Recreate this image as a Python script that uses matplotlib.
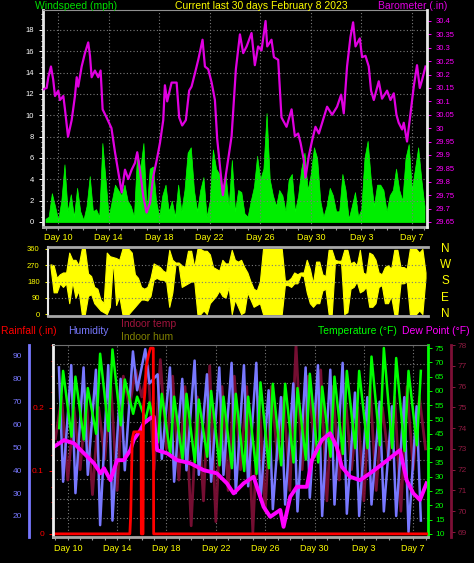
import numpy as np
import matplotlib
matplotlib.use('Agg')
import matplotlib.pyplot as plt
from matplotlib.ticker import MultipleLocator, FuncFormatter

plt.rcParams['font.family'] = ['Liberation Sans', 'DejaVu Sans']

# x axis: day number counted from Jan 0 (Feb 3 = 34, Feb 7 = 38)
day_ticks = [10, 14, 18, 22, 26, 30, 34, 38]
day_labels = ['Day 10', 'Day 14', 'Day 18', 'Day 22', 'Day 26', 'Day 30', 'Day 3', 'Day 7']

# windspeed (mph), one reading every 6 hours from day 9.0
wind_start, wind_step = 9.0, 0.25
wind_speed = [0.3, 0.5, 2.7, 1.5, 0.2, 2.0, 5.4, 1.0, 2.6, 0.5,
              3.2, 1.0, 0.2, 1.5, 4.3, 1.0, 1.2, 0.5, 7.4, 4.0,
              0.5, 2.0, 3.5, 3.0, 2.5, 3.5, 2.0, 1.5, 0.5, 6.5,
              5.0, 7.4, 1.0, 5.0, 5.2, 2.0, 0.5, 2.5, 3.5, 1.0,
              2.0, 0.5, 3.5, 1.0, 3.0, 6.5, 7.0, 3.0, 1.0, 3.0,
              4.2, 0.5, 2.0, 6.8, 5.0, 4.5, 3.0, 4.5, 1.5, 5.8,
              1.0, 3.0,
              2.8, 0.8, 0.5, 2.0, 3.3, 6.2, 4.0, 5.0, 10.2, 4.0,
              2.5, 1.5, 3.0, 2.5, 1.0, 4.0, 4.5, 1.0, 2.5, 5.0,
              6.5, 3.0, 4.5, 7.0, 6.0, 2.0, 0.5, 1.5, 3.2, 2.5,
              1.0, 1.0, 4.5, 3.0, 0.3, 1.5, 2.8, 0.5, 1.2, 6.0,
              7.6, 4.0, 1.5, 3.5, 3.5, 3.0, 1.0, 2.5, 3.0, 5.0,
              3.0, 2.0, 6.0, 7.3, 3.0, 5.0, 7.0, 4.0, 1.5]

# barometer (in)
baro_days = [8.82, 9.09, 9.22, 9.43, 9.61, 9.75, 10.01, 10.14, 10.41, 10.54,
             10.78, 11.07, 11.33, 11.47, 11.59, 11.86, 12.12, 12.38, 12.52, 12.65,
             12.91, 13.17, 13.36, 13.52, 13.78, 14.22, 14.50, 14.73, 15.03, 15.29,
             15.55, 15.82, 16.08, 16.26, 16.47, 16.74, 17.00, 17.27, 17.53, 17.80,
             18.06, 18.32, 18.45, 18.63, 18.98, 19.38, 19.58, 19.82, 20.11, 20.37,
             20.56, 20.83, 21.09, 21.43, 21.62, 21.88, 22.15, 22.41, 22.59, 23.04,
             23.73, 24.07, 24.39, 24.65, 24.92, 25.31, 25.57, 25.83, 26.10, 26.42,
             26.55, 26.89, 27.08, 27.42, 27.68, 28.08, 28.48, 28.74, 29.00, 29.19,
             29.45, 29.58, 29.84, 30.11, 30.37, 30.64, 30.90, 31.29, 31.69, 32.08,
             32.40, 32.61, 32.87, 33.14, 33.35, 33.54, 33.88, 34.06, 34.33, 34.59,
             34.77, 34.99, 35.38, 35.64, 36.04, 36.31, 36.57, 36.78, 36.96, 37.23,
             37.36, 37.62, 37.83, 38.15, 38.41, 38.63, 38.81, 39.08]
baro_vals = [30.145, 30.15, 30.19, 30.23, 30.18, 30.12, 30.14, 30.105, 30.12, 30.07,
             29.968, 30.03, 30.12, 30.19, 30.155, 30.23, 30.28, 30.32, 30.27, 30.19,
             30.215, 30.19, 30.215, 30.07, 30.045, 30.0, 29.91, 29.845, 29.76, 29.845,
             29.81, 29.845, 29.87, 29.91, 29.845, 29.745, 29.685, 29.72, 29.82, 29.88,
             29.945, 30.03, 30.16, 30.10, 30.17, 30.17, 30.04, 30.01, 30.03, 30.14,
             30.155, 30.205, 30.255, 30.33, 30.23, 30.22, 30.17, 30.105, 29.96, 29.75,
             29.97, 30.22, 30.35, 30.28, 30.305, 30.355, 30.235, 30.305, 30.29, 30.40,
             30.305, 30.33, 30.265, 30.255, 30.04, 30.005, 30.07, 29.97, 29.98, 29.945,
             29.88, 29.815, 29.895, 29.955, 30.005, 29.98, 30.02, 30.08, 30.05, 30.08,
             30.125, 30.055, 30.23, 30.34, 30.395, 30.305, 30.335, 30.265, 30.27, 30.23,
             30.14, 30.105, 30.175, 30.11, 30.14, 30.105, 30.13, 30.05, 30.02, 29.995,
             30.02, 29.95, 30.03, 30.155, 30.235, 30.15, 30.18, 30.23]

# wind direction (deg): lowest and highest reading in each 6 hour slot
wdir_start, wdir_step = 9.0, 0.25
wdir_lo = [260, 120, 120, 170, 150, 170, 60, 180, 90, 130,
           0, 0, 100, 110, 60, 40, 20, 10, 0, 40,
           300, 50, 100, 0, 0, 0, 20, 40, 60, 80,
           80, 75, 100, 190, 200, 190, 190, 180, 40, 120,
           275, 270, 150, 160, 170, 180, 180, 0, 0, 20,
           0, 60, 80, 100, 130, 100, 90, 150, 0, 80,
           40, 0, 10, 120, 80, 40, 50, 60, 0, 0,
           0, 0, 0, 0, 0, 160, 160, 150, 170, 170,
           215, 210, 120, 60, 40, 60, 60, 130, 140, 0,
           0, 280, 285, 280, 0, 10, 140, 150, 180, 120,
           130, 150, 40, 40, 60, 150, 160, 60, 60, 100,
           0, 0, 170, 170, 180, 0, 0, 0, 20, 0, 200]
wdir_hi = [275, 270, 200, 220, 230, 230, 340, 300, 300, 270,
           360, 360, 225, 210, 150, 140, 80, 60, 340, 320,
           315, 310, 300, 360, 360, 360, 340, 220, 200, 150,
           140, 150, 200, 280, 270, 260, 240, 230, 355, 300,
           285, 285, 270, 260, 350, 350, 260, 360, 360, 350,
           350, 330, 260, 250, 240, 300, 280, 280, 355, 300,
           290, 300, 260, 230, 180, 140, 130, 180, 360, 360,
           360, 360, 360, 360, 360, 185, 185, 200, 230, 220,
           230, 230, 300, 250, 170, 290, 290, 220, 210, 355,
           355, 300, 295, 295, 355, 355, 280, 290, 270, 355,
           230, 220, 340, 330, 300, 230, 220, 260, 270, 250,
           355, 355, 260, 260, 250, 360, 360, 360, 340, 360, 230]

# outdoor temperature (F): daily low (early morning) and high (afternoon), days 9..38
cal_days = list(range(9, 39))
temp_low = [47, 44, 43, 45, 46, 48, 52, 50, 42, 38, 36, 35, 37, 34, 33,
            32, 31, 33, 34, 35, 36, 35, 37, 38, 40, 40, 41, 40, 39, 41]
temp_high = [67, 65, 61, 73, 74.5, 64, 58, 56, 59, 58, 59, 57, 60, 58, 59,
             58, 63, 62.5, 62.5, 61, 66, 61.5, 65, 67, 67, 72, 75, 71.5, 67, 67]

# humidity (%): daily high (morning) and low (afternoon)
hum_high = [85, 86, 85, 84, 86, 80, 92, 93, 82, 85, 80, 88, 82, 85, 87,
            86, 87, 75, 72, 78, 85, 86, 84, 87, 74, 72, 70, 68, 72, 68]
hum_low = [35, 30, 38, 16, 18, 40, 75, 78, 45, 35, 40, 38, 35, 38, 30,
           33, 27, 23, 25, 22, 28, 20, 25, 21, 20, 25, 22, 20, 13, 18]

# dew point (F)
dew_days = [8.88, 9.69, 10.50, 11.31, 12.12, 12.66, 12.93, 13.46, 14.00, 14.54,
            15.08, 15.35, 15.89, 16.16, 16.70, 16.97, 17.24, 18.05, 18.86, 19.94,
            21.02, 22.09, 22.90, 23.44, 24.25, 25.06, 25.87, 26.41, 27.22, 27.49,
            28.03, 28.57, 29.38, 29.78, 30.18, 30.59, 31.26, 31.80, 32.21, 32.88,
            33.69, 34.50, 35.58, 36.93, 37.47, 38.01, 38.55, 39.08]
dew_vals = [40.5, 42.8, 41.7, 38.2, 34.7, 31.2, 33.0, 28.8, 35.8, 35.8,
            39.4, 43.0, 46.3, 48.7, 50.5, 51.0, 39.3, 38.2, 35.8, 34.7,
            32.3, 31.2, 27.7, 24.2, 27.7, 30.0, 19.5, 16.0, 18.4, 12.5,
            23.0, 26.5, 26.5, 35.8, 39.3, 42.8, 45.2, 40.5, 33.5, 30.0,
            28.8, 31.2, 34.7, 39.3, 28.8, 24.2, 21.9, 27.7]

# indoor temperature (F), every 12 hours from day 9.0
indoor_start, indoor_step = 9.0, 0.5
indoor_temp = [73.5, 75.5, 71.5, 75.0, 72.0, 75.5, 70.8, 75.0, 72.5, 76.0,
               71.0, 76.5, 75.0, 76.8, 75.5, 77.0, 72.0, 77.3, 73.0, 76.5,
               71.5, 76.0, 69.3, 75.5, 70.5, 77.0, 69.5, 76.0, 71.0, 76.5,
               72.0, 76.0, 69.0, 75.5, 70.0, 76.0, 72.5, 75.5, 71.0, 78.0,
               72.0, 76.5, 73.0, 76.8, 70.5, 76.0, 71.5, 75.5, 72.0, 75.0,
               70.5, 76.0, 71.0, 75.0, 72.5, 75.5, 70.0, 76.0, 72.0, 75.5, 73.0]

# rainfall (in), running total of the storm
rain_days = [8.85, 15.03, 15.10, 15.22, 15.35, 15.82, 15.94, 15.96, 16.10, 16.13,
             16.25, 16.35, 16.55, 16.70, 16.93, 16.96, 39.2]
rain_vals = [0, 0, 0.03, 0.15, 0.162, 0.162, 0.162, 0, 0, 0.20,
             0.225, 0.265, 0.285, 0.295, 0.295, 0, 0]

W, H = 474, 563
PT = 72 / 100  # points per pixel
GRID = dict(color='#7a7a7a', lw=0.8, ls=(0, (1, 2)))
XLIM = (8.8, 39.2)


def rect(l, t, r, b):
    return [l / W, 1 - b / H, (r - l) / W, (b - t) / H]


def day_axis(ax, pad):
    ax.set_xlim(*XLIM)
    ax.set_xticks(day_ticks)
    ax.set_xticklabels(day_labels, fontsize=6.5)
    ax.xaxis.set_minor_locator(MultipleLocator(1))
    ax.tick_params(axis='x', which='both', colors='#a0a0a0', length=2, width=0.8, pad=pad)
    for lbl in ax.get_xticklabels():
        lbl.set_color('#ffff00')


fig = plt.figure(figsize=(W / 100, H / 100), dpi=100, facecolor='black')

# ---------- top panel: windspeed + barometer ----------
ax1 = fig.add_axes(rect(43, 10, 427, 227))
ax1.set_facecolor('black')
ax1.set_axisbelow(True)
wind_days = wind_start + wind_step * np.arange(len(wind_speed))
ax1.fill_between(wind_days, wind_speed, 0, color='#00ee00', lw=0.5, edgecolor='#00ff00')
ax1.set_ylim(-0.47, 19.87)
ax1.set_yticks(range(0, 19, 2))
ax1.yaxis.set_minor_locator(MultipleLocator(0.5))
ax1.tick_params(axis='y', which='both', colors='white', labelsize=5.5, length=3, width=0.7)
ax1.tick_params(axis='y', which='minor', length=1.5)
day_axis(ax1, 2.5)
for v in range(2, 19, 2):
    ax1.axhline(v, **GRID)
for d in day_ticks:
    ax1.axvline(d, **GRID)
ax1.spines['left'].set_color('#e8e8e8')
ax1.spines['left'].set_linewidth(2)
ax1.spines['bottom'].set_color('#a8a8a8')
ax1.spines['bottom'].set_linewidth(2)
ax1.spines['top'].set_color('#909090')
ax1.spines['right'].set_visible(False)

ax1b = ax1.twinx()
ax1b.plot(baro_days, baro_vals, color='#e000e0', lw=1.6)
ax1b.set_ylim(29.631, 30.441)
ax1b.set_yticks(np.round(np.arange(29.65, 30.41, 0.05), 2))
ax1b.yaxis.set_major_formatter(FuncFormatter(lambda v, p: f'{round(v, 2):g}'))
ax1b.tick_params(axis='y', colors='#ff00ff', labelsize=5.5, length=3, width=0.7)
for s in ['left', 'top', 'bottom']:
    ax1b.spines[s].set_visible(False)
ax1b.spines['right'].set_color('#e8e8e8')
ax1b.spines['right'].set_linewidth(2)

# ---------- middle panel: wind direction ----------
ax2 = fig.add_axes(rect(48, 247, 428, 316))
ax2.set_facecolor('black')
wdir_days = wdir_start + wdir_step * np.arange(len(wdir_lo))
ax2.fill_between(wdir_days, wdir_lo, wdir_hi, color='#ffff00', lw=0.8, edgecolor='#ffff00')
ax2.set_xlim(*XLIM)
ax2.set_ylim(-11, 371)
ax2.set_xticks([])
ax2.set_yticks([0, 90, 180, 270, 360])
ax2.tick_params(axis='y', colors='#ffff00', labelsize=5.5, length=2.5, width=0.7)
for v in [90, 180, 270]:
    ax2.axhline(v, **GRID)
for s in ['top', 'bottom']:
    ax2.spines[s].set_color('#a8a8a8')
    ax2.spines[s].set_linewidth(2)
ax2.spines['left'].set_color('#e8e8e8')
ax2.spines['left'].set_linewidth(1.5)
ax2.spines['right'].set_visible(False)
for deg, name in zip([360, 270, 180, 90, 0], ['N', 'W', 'S', 'E', 'N']):
    ax2.text(1.045, deg, name, transform=ax2.get_yaxis_transform(), color='#ffff00',
             fontsize=8.5, ha='center', va='center')

# ---------- bottom panel ----------
ax3 = fig.add_axes(rect(53, 345, 428, 537))
ax3.patch.set_visible(False)
ax_i = ax3.twinx()
ax_h = ax3.twinx()
ax_t = ax3.twinx()
ax_i.set_zorder(1)
ax_h.set_zorder(2)
ax_t.set_zorder(3)
ax3.set_zorder(4)

# grid on the lowest layer, 10 equal rows
for f in np.linspace(0.1, 0.9, 9):
    ax_i.axhline(68.76 + f * (78.0 - 68.76), **GRID)
for d in day_ticks:
    ax_i.axvline(d, **GRID)

indoor_days = indoor_start + indoor_step * np.arange(len(indoor_temp))
ax_i.plot(indoor_days, indoor_temp, color='#7c0f35', lw=2.0, alpha=0.95)
ax_i.set_ylim(68.76, 78.0)
ax_i.set_yticks(range(69, 79))
ax_i.tick_params(axis='y', colors='#8c1a40', labelsize=6, length=3, width=0.7, pad=2)
ax_i.spines['right'].set_position(('outward', 23 * PT))
ax_i.spines['right'].set_color('#7c0f35')
ax_i.spines['right'].set_linewidth(2)
for s in ['left', 'top', 'bottom']:
    ax_i.spines[s].set_visible(False)

# humidity: morning highs and afternoon lows interleaved
hum_days = np.ravel([[d + 0.28, d + 0.62] for d in cal_days])
hum_vals = np.ravel([[hi, lo] for hi, lo in zip(hum_high, hum_low)])
ax_h.plot(hum_days, hum_vals, color='#7878ff', lw=1.8)
ax_h.set_ylim(10.81, 94.81)
ax_h.set_yticks(range(20, 91, 10))
ax_h.yaxis.set_ticks_position('left')
ax_h.spines['left'].set_visible(True)
ax_h.spines['left'].set_position(('outward', 24 * PT))
ax_h.spines['left'].set_color('#7878ff')
ax_h.spines['left'].set_linewidth(2)
for s in ['right', 'top', 'bottom']:
    ax_h.spines[s].set_visible(False)
ax_h.tick_params(axis='y', colors='#7878ff', labelsize=6, length=0, pad=5)

temp_days = np.ravel([[d + 0.30, d + 0.62] for d in cal_days])
temp_vals = np.ravel([[lo, hi] for lo, hi in zip(temp_low, temp_high)])
ax_t.plot(temp_days, temp_vals, color='#00ff00', lw=1.8)
ax_t.plot(dew_days, dew_vals, color='#ff00ff', lw=2.8)
ax_t.set_ylim(8.95, 76.05)
ax_t.set_yticks(range(10, 76, 5))
ax_t.tick_params(axis='y', colors='#00ff00', labelsize=6, length=3, width=0.7, pad=2)
ax_t.spines['right'].set_color('#00ff00')
ax_t.spines['right'].set_linewidth(2)
for s in ['left', 'top', 'bottom']:
    ax_t.spines[s].set_visible(False)

ax3.plot(rain_days, rain_vals, color='#ff0000', lw=2)
ax3.set_ylim(-0.005, 0.3)
ax3.set_yticks([0, 0.1, 0.2])
ax3.set_yticklabels(['0', '0.1', '0.2'])
ax3.yaxis.set_minor_locator(MultipleLocator(0.025))
ax3.tick_params(axis='y', which='both', colors='#ff0000', labelsize=6, length=3, width=0.7)
ax3.tick_params(axis='y', which='minor', length=1.5)
day_axis(ax3, 3)
ax3.spines['left'].set_color('#f0f0f0')
ax3.spines['left'].set_linewidth(2)
ax3.spines['bottom'].set_color('#a8a8a8')
ax3.spines['bottom'].set_linewidth(2)
ax3.spines['top'].set_color('#707070')
ax3.spines['right'].set_visible(False)


# ---------- titles / legends ----------
def label(x, y, s, c, ha='left'):
    fig.text(x / W, 1 - y / H, s, color=c, fontsize=7.5, ha=ha, va='center')


label(35, 6, 'Windspeed (mph)', '#00e000')
label(261, 6, 'Current last 30 days February 8 2023', '#ffff00', ha='center')
label(378, 6, 'Barometer (.in)', '#e000e0')
label(1, 331, 'Rainfall (.in)', '#ff0000')
label(68, 331, 'Humidity', '#7878ff')
label(121, 324, 'Indoor temp', '#a0143c')
label(121, 337, 'Indoor hum', '#808000')
label(318, 331, 'Temperature (\u00b0F)', '#00ff00')
label(402, 331, 'Dew Point (\u00b0F)', '#ff00ff')

fig.savefig('out.png', dpi=100, facecolor='black')
